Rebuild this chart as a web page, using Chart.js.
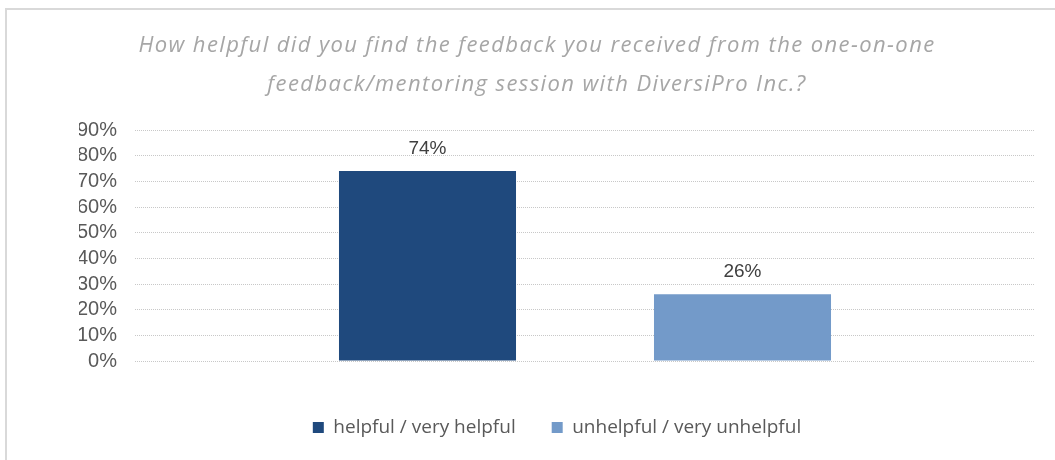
<!DOCTYPE html>
<html>
<head>
<meta charset="utf-8">
<title>Feedback session survey</title>
<script src="https://cdn.jsdelivr.net/npm/chart.js@4.4.1/dist/chart.umd.min.js"></script>
<style>
  html, body { margin: 0; padding: 0; background: #fff; }
  .wrap { position: relative; width: 1055px; height: 460px; overflow: hidden; }
  /* only the top and left edges of the chart frame are in view */
  .frame { position: absolute; left: 5px; top: 8px; right: -10px; bottom: -10px;
           border-top: 2px solid #d9d9d9; border-left: 2px solid #d9d9d9; }
  .title { position: absolute; left: 0; top: 24px; width: 1074px; text-align: center;
           font: italic 22px "Open Sans"; line-height: 39px; color: #a6a6a6; letter-spacing: 1.4px; }
  canvas { position: absolute; left: 0; top: 0; }
</style>
</head>
<body>
<div class="wrap">
  <div class="frame"></div>
  <canvas id="feedbackChart" width="1055" height="460"></canvas>
  <div class="title">How helpful did you find the feedback you received from the one-on-one<br>feedback/mentoring session with DiversiPro Inc.?</div>
</div>
<script>
// survey answers, percent of respondents
const categories = [''];
const seriesNames = ['helpful / very helpful', 'unhelpful / very unhelpful'];
const helpful = [74];
const unhelpful = [26];
const seriesColors = ['#1f497d', '#739ac9'];
const yMax = 90;
const yStep = 10;

// writes the value above each bar
const valueLabels = {
  id: 'valueLabels',
  afterDatasetsDraw(chart) {
    const ctx = chart.ctx;
    ctx.save();
    ctx.font = '19px "Liberation Sans"';
    ctx.fillStyle = '#404040';
    ctx.textAlign = 'center';
    ctx.textBaseline = 'alphabetic';
    chart.data.datasets.forEach((ds, i) => {
      chart.getDatasetMeta(i).data.forEach((bar, j) => {
        ctx.fillText(ds.data[j] + '%', bar.x, bar.y - 17);
      });
    });
    ctx.restore();
  }
};

const ctx = document.getElementById('feedbackChart').getContext('2d');
const feedbackChart = new Chart(ctx, {
  type: 'bar',
  data: {
    labels: categories,
    datasets: [
      { label: seriesNames[0], data: helpful, backgroundColor: seriesColors[0], borderWidth: 0 },
      { label: seriesNames[1], data: unhelpful, backgroundColor: seriesColors[1], borderWidth: 0 }
    ]
  },
  options: {
    responsive: false,
    animation: false,
    categoryPercentage: 0.7,
    barPercentage: 0.562,
    layout: { padding: { top: 130, left: 79, right: 20, bottom: 13 } },
    scales: {
      x: {
        grid: { display: false },
        border: { display: false },
        ticks: { display: false },
        afterFit: (scale) => { scale.height = 21; }
      },
      y: {
        min: 0,
        max: yMax,
        afterFit: (scale) => { scale.width = 56; },
        // dotted gridlines, no axis line
        border: { display: false, dash: [1, 1] },
        grid: { color: '#c8c8c8', drawTicks: false },
        ticks: {
          stepSize: yStep,
          autoSkip: false,
          padding: 18,
          color: '#595959',
          font: { family: 'Liberation Sans', size: 20 },
          callback: (v) => v + '%'
        }
      }
    },
    plugins: {
      legend: {
        position: 'bottom',
        labels: {
          boxWidth: 11,
          boxHeight: 11,
          padding: 36,
          color: '#595959',
          font: { family: 'Open Sans', size: 19 }
        }
      },
      tooltip: { enabled: false }
    }
  },
  plugins: [valueLabels]
});
</script>
</body>
</html>
